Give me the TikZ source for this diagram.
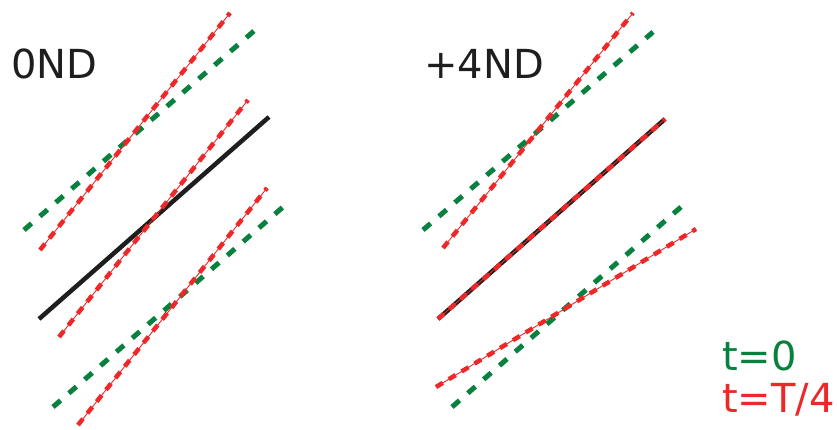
\documentclass[tikz,border=0pt]{standalone}
\usepackage{fontspec}
\setmainfont{DejaVu Sans}
\definecolor{tgreen}{RGB}{8,128,62}
\definecolor{tred}{RGB}{238,40,40}
\definecolor{tblack}{RGB}{30,30,30}
\tikzset{
  base/.style={draw=tblack, line width=4.5pt},
  gline/.style={draw=tgreen, line width=5pt, dash pattern=on 10pt off 11pt},
  rthin/.style={draw=tred, line width=0.9pt},
  rdash/.style={draw=tred, line width=4.5pt, dash pattern=on 8pt off 7pt},
  lbl/.style={font=\fontsize{40}{42}\selectfont, inner sep=0pt, anchor=base west},
}
\newcommand{\redline}[2]{\draw[rthin] #1 -- #2; \draw[rdash] #1 -- #2;}
\begin{document}
\begin{tikzpicture}[x=1pt,y=-1pt]
\useasboundingbox (0,0) rectangle (837,430);
% left panel
\draw[gline] (24,230) -- (254,31);
\draw[gline] (53,407) -- (283,207);
\draw[base] (39,319) -- (269,117);
\redline{(40,250)}{(230,13)}
\redline{(59,337)}{(248,100)}
\redline{(78,425)}{(267,188)}
% right panel
\draw[gline] (423,230) -- (653,32);
\draw[gline] (452,407) -- (681,207);
\draw[base] (438,319) -- (665,119);
\redline{(443,248)}{(633,13)}
\redline{(438,319)}{(665,119)}
\redline{(436,387)}{(696,229)}
% labels
\node[lbl, text=tblack] (l0) at (11,79) {0ND};
\node[lbl, text=tblack] (l4) at (424,79) {+4ND};
\node[lbl, text=tgreen] (tz) at (722,370) {t=0};
\node[lbl, text=tred] (tq) at (722,412) {t=T/4};
\end{tikzpicture}
\end{document}
